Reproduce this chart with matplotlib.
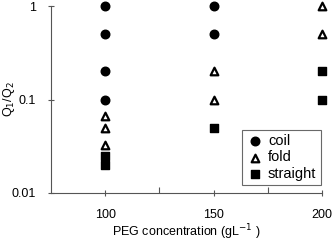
import matplotlib
matplotlib.use("Agg")
import matplotlib.pyplot as plt

plt.rcParams['font.family'] = ['Liberation Sans', 'DejaVu Sans']

# Q1/Q2 values per PEG concentration
coil_x = [100, 100, 100, 100, 150, 150]
coil_y = [1, 0.5, 0.2, 0.1, 1, 0.5]
fold_x = [100, 100, 100, 150, 150, 200, 200]
fold_y = [0.067, 0.05, 0.033, 0.2, 0.1, 1, 0.5]
straight_x = [100, 100, 150, 200, 200]
straight_y = [0.025, 0.02, 0.05, 0.2, 0.1]

xticks = [100, 150, 200]
yticks = [0.01, 0.1, 1]
ytick_labels = ['0.01', '0.1', '1']

fig = plt.figure(figsize=(3.33, 2.42), dpi=100)
ax = fig.add_axes([0.153, 0.2025, 0.814, 0.7725])

ax.scatter(coil_x, coil_y, marker='o', s=38, color='black', label='coil',
           zorder=3, clip_on=False)
ax.scatter(fold_x, fold_y, marker='^', s=30, facecolor='white', edgecolor='black',
           linewidths=1.6, label='fold', zorder=3, clip_on=False)
ax.scatter(straight_x, straight_y, marker='s', s=36, color='black', label='straight',
           zorder=3, clip_on=False)

ax.set_yscale('log')
ax.set_xlim(75, 200)
ax.set_ylim(0.01, 1)
ax.set_xticks(xticks)
ax.set_xticks([125, 175], minor=True)
ax.set_xticklabels([str(v) for v in xticks])
ax.set_yticks(yticks)
ax.set_yticklabels(ytick_labels)
ax.yaxis.set_minor_locator(matplotlib.ticker.NullLocator())

for side in ['top', 'right']:
    ax.spines[side].set_visible(False)
for side in ['left', 'bottom']:
    ax.spines[side].set_color('#555555')
    ax.spines[side].set_linewidth(0.8)

ax.tick_params(axis='both', which='both', direction='inout', length=5, width=0.8,
               color='#555555', labelsize=9)
ax.tick_params(axis='x', which='major', pad=9)
ax.tick_params(axis='y', which='major', pad=8)
ax.tick_params(axis='x', which='minor', direction='in', length=4)

ax.set_xlabel('PEG concentration (gL$^{-1}$ )', fontsize=9)
ax.xaxis.set_label_coords(0.5, -0.155)
ax.set_ylabel('Q$_1$/Q$_2$', fontsize=9)
ax.yaxis.set_label_coords(-0.125, 0.5)

leg = ax.legend(loc='lower right', fontsize=10.5, frameon=True, fancybox=False,
                edgecolor='#444444', handletextpad=0.3, borderpad=0.3,
                labelspacing=0.15, handlelength=1.2, borderaxespad=0,
                bbox_to_anchor=(0.995, 0.043))
leg.get_frame().set_linewidth(0.8)

fig.savefig('out.png', dpi=100)
